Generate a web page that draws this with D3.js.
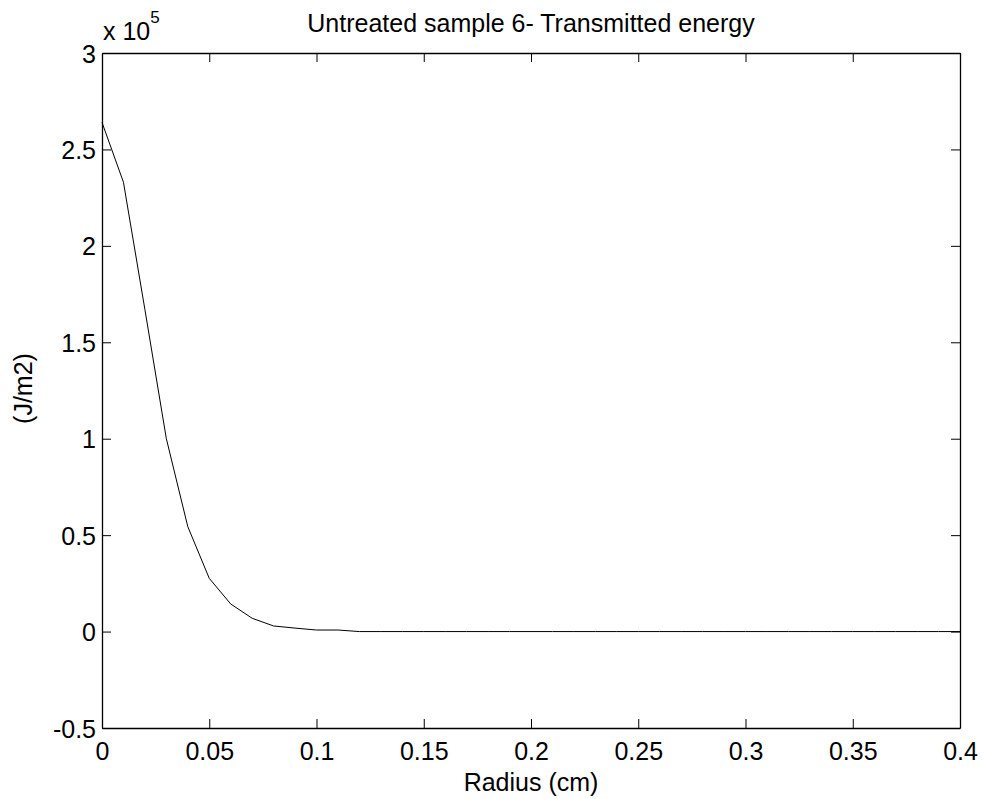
<!DOCTYPE html>
<html>
<head>
<meta charset="utf-8">
<script src="https://cdn.jsdelivr.net/npm/d3@7"></script>
<style>
  html, body { margin: 0; padding: 0; background: #fff; }
  svg { display: block; font-family: "Liberation Sans", Arial, sans-serif; }
</style>
</head>
<body>
<svg id="chart" width="982" height="799"></svg>
<script>
// Radial profile of transmitted energy (J/m2) versus radius (cm)
const radius = [0, 0.01, 0.02, 0.03, 0.04, 0.05, 0.06, 0.07, 0.08, 0.09, 0.1,
  0.11, 0.12, 0.13, 0.14, 0.15, 0.16, 0.17, 0.18, 0.19, 0.2,
  0.21, 0.22, 0.23, 0.24, 0.25, 0.26, 0.27, 0.28, 0.29, 0.3,
  0.31, 0.32, 0.33, 0.34, 0.35, 0.36, 0.37, 0.38, 0.39, 0.4];
const energy = [264000, 233000, 167000, 100000, 54400, 27600, 14300, 6900, 2900, 1800, 800,
  800, 0, 0, 0, 0, 0, 0, 0, 0, 0,
  0, 0, 0, 0, 0, 0, 0, 0, 0, 0,
  0, 0, 0, 0, 0, 0, 0, 0, 0, 0];
const xTicks = [0, 0.05, 0.1, 0.15, 0.2, 0.25, 0.3, 0.35, 0.4];
const yTicks = [-50000, 0, 50000, 100000, 150000, 200000, 250000, 300000];
const yExponent = 5;

const title = "Untreated sample 6- Transmitted energy";
const xLabel = "Radius (cm)";
const yLabel = "(J/m2)";

const margin = { left: 102, right: 22, top: 53, bottom: 71 };
const W = 982, H = 799;
const svg = d3.select("#chart");
const fontSize = 25;

const x = d3.scaleLinear().domain([0, 0.4]).range([margin.left, W - margin.right]);
const y = d3.scaleLinear().domain([-50000, 300000]).range([H - margin.bottom, margin.top]);

const tickLen = 9;
const fmtX = d => (d === 0 ? "0" : String(+d.toFixed(2)));
const fmtY = d => String(+(d / Math.pow(10, yExponent)).toFixed(2));

// axes on all four sides, ticks pointing inward
const axB = svg.append("g").attr("transform", `translate(0,${y.range()[0]})`)
  .call(d3.axisBottom(x).tickValues(xTicks).tickFormat(fmtX).tickSizeInner(-tickLen).tickSizeOuter(0).tickPadding(14));
const axT = svg.append("g").attr("transform", `translate(0,${y.range()[1]})`)
  .call(d3.axisTop(x).tickValues(xTicks).tickFormat("").tickSizeInner(-tickLen).tickSizeOuter(0));
const axL = svg.append("g").attr("transform", `translate(${x.range()[0]},0)`)
  .call(d3.axisLeft(y).tickValues(yTicks).tickFormat(fmtY).tickSizeInner(-tickLen).tickSizeOuter(0).tickPadding(6));
const axR = svg.append("g").attr("transform", `translate(${x.range()[1]},0)`)
  .call(d3.axisRight(y).tickValues(yTicks).tickFormat("").tickSizeInner(-tickLen).tickSizeOuter(0));

[axB, axT, axL, axR].forEach(g => {
  g.select(".domain").attr("stroke", "#000").attr("stroke-width", 1.3);
  g.selectAll(".tick line").attr("stroke", "#000").attr("stroke-width", 1);
  g.selectAll(".tick text").attr("fill", "#000").attr("font-size", fontSize)
    .attr("font-family", "'Liberation Sans', Arial, sans-serif");
});
axL.selectAll(".tick text").attr("dy", "0.36em");

// data line
const line = d3.line().x((d, i) => x(radius[i])).y(d => y(d));
svg.append("path")
  .datum(energy)
  .attr("d", line)
  .attr("fill", "none")
  .attr("stroke", "#000")
  .attr("stroke-width", 1);

// exponent label
const exp = svg.append("text")
  .attr("x", 103).attr("y", 40)
  .attr("font-size", fontSize).attr("fill", "#000");
exp.append("tspan").text("x 10");
exp.append("tspan").attr("font-size", 17).attr("dy", -17).text(yExponent);

// title
svg.append("text")
  .attr("x", (x.range()[0] + x.range()[1]) / 2).attr("y", 32)
  .attr("text-anchor", "middle").attr("font-size", fontSize).attr("fill", "#000")
  .text(title);

// x axis label
svg.append("text")
  .attr("x", (x.range()[0] + x.range()[1]) / 2).attr("y", 791)
  .attr("text-anchor", "middle").attr("font-size", fontSize).attr("fill", "#000")
  .text(xLabel);

// y axis label
svg.append("text")
  .attr("transform", `translate(32,${(y.range()[0] + y.range()[1]) / 2 - 2}) rotate(-90)`)
  .attr("text-anchor", "middle").attr("font-size", fontSize).attr("fill", "#000")
  .text(yLabel);
</script>
</body>
</html>
